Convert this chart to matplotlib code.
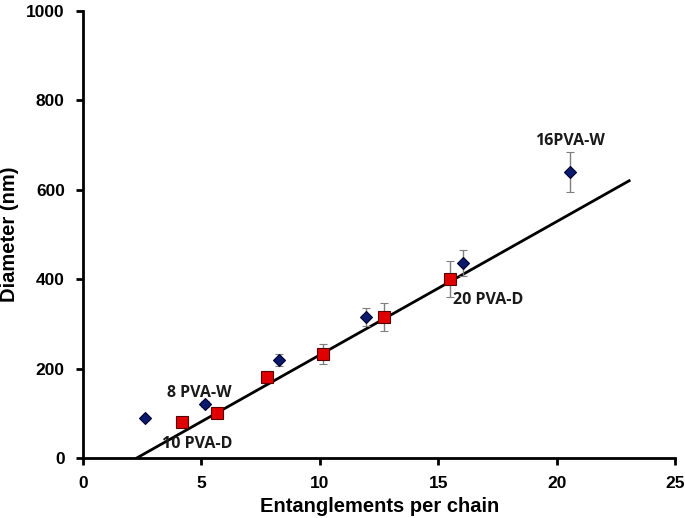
import numpy as np
import matplotlib.pyplot as plt

# W series (blue diamonds)
w_x = [2.62, 5.15, 8.27, 11.94, 16.03, 20.55]
w_y = [90, 121, 219, 315, 436, 640]
w_err = [0, 6, 14, 21, 30, 45]

# D series (red squares)
d_x = [4.18, 5.65, 7.76, 10.13, 12.70, 15.49]
d_y = [81, 100, 181, 233, 315, 400]
d_err = [0, 5, 14, 22, 31, 40]

# trend line end points
trend_x = [2.28, 23.05]
trend_y = [0, 620]

labels = ["8 PVA-W", "10 PVA-D", "20 PVA-D", "16PVA-W"]
label_xy = [(3.55, 145), (3.35, 31), (15.6, 353), (20.55, 709)]
label_ha = ["left", "left", "left", "center"]

fig = plt.figure(figsize=(6.85, 5.18), dpi=100)
ax = fig.add_axes([0.121, 0.116, 0.865, 0.863])

ax.plot(trend_x, trend_y, color="black", lw=2, zorder=2)

ax.errorbar(w_x, w_y, yerr=w_err, fmt="D", ms=6.2, mfc="#0B1A6B", mec="#000033",
            mew=0.8, ecolor="#7f7f7f", elinewidth=1, capsize=3, capthick=1, zorder=3)
ax.errorbar(d_x, d_y, yerr=d_err, fmt="s", ms=8, mfc="#E00000", mec="#5a0000",
            mew=0.8, ecolor="#7f7f7f", elinewidth=1, capsize=3, capthick=1, zorder=3)

for txt, (tx, ty), ha in zip(labels, label_xy, label_ha):
    ax.text(tx, ty, txt, ha=ha, va="center", fontsize=11.5, fontweight="bold",
            family="Open Sans", color="#1a1a1a")

ax.set_xlim(0, 25)
ax.set_ylim(0, 1000)
ax.set_xticks([0, 5, 10, 15, 20, 25])
ax.set_yticks([0, 200, 400, 600, 800, 1000])
for s in ["top", "right"]:
    ax.spines[s].set_visible(False)
for s in ["left", "bottom"]:
    ax.spines[s].set_linewidth(2)
ax.tick_params(direction="out", length=5, width=2, labelsize=12.5, pad=8)
for lab in ax.get_xticklabels() + ax.get_yticklabels():
    lab.set_fontweight("bold")
    lab.set_family("Liberation Sans")

ax.set_xlabel("Entanglements per chain", fontsize=14.5, fontweight="bold", family="Liberation Sans", labelpad=4)
ax.set_ylabel("Diameter (nm)", fontsize=14.5, fontweight="bold", family="Liberation Sans", labelpad=5)

fig.savefig("out.png", dpi=100)
